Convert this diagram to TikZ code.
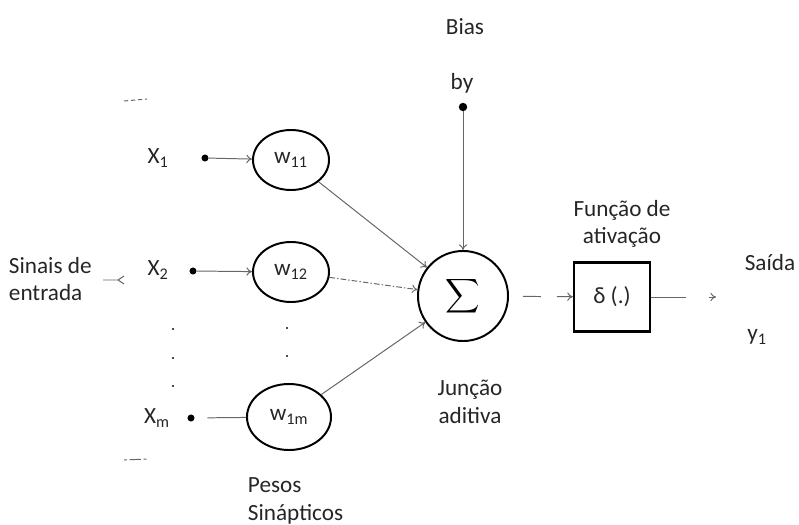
\documentclass[tikz,border=0pt]{standalone}
\usepackage{fontspec}
\setmainfont{Carlito}
\usetikzlibrary{shapes.geometric,arrows.meta}
\tikzset{
  peso/.style={ellipse, draw, line width=1.4pt, minimum width=1.9cm,
    minimum height=1.5cm, inner sep=0pt, rotulo},
  ponto/.style={circle, fill, inner sep=0pt, minimum size=5pt},
  ligacao/.style={draw=black!60, line width=0.7pt},
  seta/.style={ligacao, -{To[length=4pt,width=6pt]}},
  rotulo/.style={font=\fontsize{16.5}{19.5}\selectfont, text=black!85},
  pontinho/.style={fill=black!70, inner sep=0pt, minimum size=2pt},
}

\begin{document}
\begin{tikzpicture}[x=0.025cm, y=-0.025cm]

    % Frame
    \useasboundingbox (0,0) rectangle (799,524);

    % Inputs
    \node[rotulo] (lx1) at (158,158) {X\textsubscript{1}};
    \node[rotulo] (lx2) at (158,270) {X\textsubscript{2}};
    \node[rotulo] (lxm) at (157,418) {X\textsubscript{m}};
    \node[ponto] (x1) at (205,158) {};
    \node[ponto] (x2) at (193,271) {};
    \node[ponto] (xm) at (191,418) {};

    % Dots between inputs and weights
    \foreach \py in {329,358,386} \node[pontinho] at (173,\py) {};
    \foreach \py in {328,356} \node[pontinho] at (287,\py) {};

    % Synaptic weights
    \node[peso] (w1) at (291,160) {w\textsubscript{11}};
    \node[peso] (w2) at (291,272) {w\textsubscript{12}};
    \node[peso, minimum width=2.1cm, minimum height=1.65cm] (wm) at (289,417) {w\textsubscript{1m}};

    % Summing junction and activation
    \node[circle, draw, line width=1.4pt, minimum size=2.25cm, inner sep=0pt]
      (sum) at (463,296) {\scalebox{1.7}{$\displaystyle\sum$}};
    \node[draw, line width=1.6pt, minimum width=1.9cm, minimum height=1.72cm, rotulo] (act) at (612,297) {δ (.)};
    \node[ponto, minimum size=6pt] (bias) at (463,107) {};
    \coordinate (out) at (716,297);

    % Connectors
    \draw[seta] (x1) -- (w1);
    \draw[seta] (x2) -- (w2);
    \draw[ligacao, shorten <=9pt] (xm) -- (wm);
    \draw[seta] (w1) -- (sum);
    \draw[seta, dash pattern=on 4pt off 1.5pt on 1pt off 1.5pt] (w2) -- (sum);
    \draw[seta] (wm) -- (sum);
    \draw[seta] (bias) -- (sum);
    \draw[seta, dash pattern=on 12.8pt off 11.3pt, dash phase=14.2pt] (sum) -- (act);
    \draw[seta, dash pattern=on 24.8pt off 16pt] (act) -- (out);

    % Brace fragments: input signals
    \draw[ligacao, dash pattern=on 3pt off 2pt] (124,101) -- (147,99);
    \draw[ligacao] (103,280) -- (118,280) -- (124,276);
    \draw[ligacao] (118,280) -- (124,284);
    \draw[ligacao, dash pattern=on 2pt off 2pt on 8pt] (124,460) -- (147,459);

    % Labels
    \node[rotulo] (tbias) at (465,27) {Bias};
    \node[rotulo] (tby) at (462,83) {by};
    \node[rotulo, align=left, anchor=west] (tin) at (4,279) {Sinais de\\entrada};
    \node[rotulo, align=left, anchor=west] (tpesos) at (243,501) {Pesos\\Sinápticos};
    \node[rotulo, align=center] (tsoma) at (470,402) {Junção\\aditiva};
    \node[rotulo, align=center] (tfunc) at (622,224) {Função de\\ativação};
    \node[rotulo] (tsaida) at (770,263) {Saída};
    \node[rotulo] (ty) at (757,337) {y\textsubscript{1}};

\end{tikzpicture}
\end{document}
